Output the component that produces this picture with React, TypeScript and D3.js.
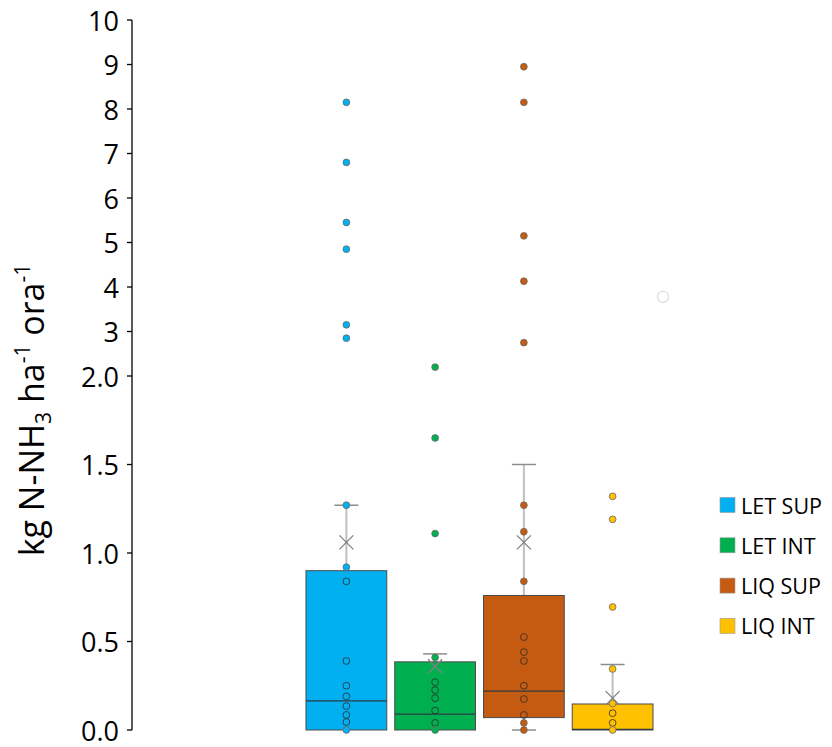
import React from "react";
import * as d3 from "d3";

// Treatment groups and their colours
const categories = ["LET SUP", "LET INT", "LIQ SUP", "LIQ INT"];
const colors = ["#00B0F0", "#00B050", "#C55A11", "#FFC000"];

// Box statistics per group (kg N-NH3 ha-1 ora-1)
const q1 = [0, 0, 0.07, 0];
const median = [0.165, 0.09, 0.22, 0.004];
const q3 = [0.9, 0.385, 0.76, 0.147];
const whiskerLow = [0, 0, 0, 0];
const whiskerHigh = [1.27, 0.43, 1.5, 0.37];
const mean = [1.06, 0.36, 1.06, 0.18];

// Individual observations per group
const letSup = [8.15, 6.8, 5.45, 4.85, 3.15, 2.85, 1.27, 0.92, 0.84, 0.39, 0.25, 0.19, 0.135, 0.085, 0.045, 0];
const letInt = [2.2, 1.65, 1.11, 0.41, 0.27, 0.225, 0.18, 0.11, 0.04, 0];
const liqSup = [8.95, 8.15, 5.15, 4.13, 2.75, 1.27, 1.12, 0.84, 0.525, 0.44, 0.39, 0.25, 0.175, 0.085, 0.04, 0];
const liqInt = [1.32, 1.19, 0.695, 0.345, 0.15, 0.095, 0.04, 0];
const points = [letSup, letInt, liqSup, liqInt];

// Stray empty marker to the right of the last group
const strayMarker = [3.78];

// Axis ticks: a linear 0–2 section, then a compressed 2–10 section
const lowTicks = [0, 0.5, 1, 1.5, 2];
const highTicks = [3, 4, 5, 6, 7, 8, 9, 10];

const W = 832;
const H = 747;
const FONT = "'Open Sans', 'Noto Sans', sans-serif";

export default function App() {
  const y = d3.scaleLinear().domain([0, 2, 10]).range([730, 376, 20]);
  const x = d3
    .scaleBand<string>()
    .domain(categories)
    .range([302, 657])
    .paddingInner(0.09)
    .paddingOuter(0.045);
  const bw = x.bandwidth();
  const axisX = 132;

  const ticks = [
    ...lowTicks.map((v) => ({ v, label: d3.format(".1f")(v) })),
    ...highTicks.map((v) => ({ v, label: String(v) })),
  ];

  return (
    <svg
      width={W}
      height={H}
      style={{ position: "absolute", left: 0, top: 0, background: "#fff" }}
      fontFamily={FONT}
    >
      {/* Y axis */}
      <line x1={axisX} x2={axisX} y1={y(10)} y2={y(0)} stroke="#000" strokeWidth={1.3} />
      {ticks.map((t) => (
        <g key={t.label}>
          <line x1={axisX - 5} x2={axisX} y1={y(t.v)} y2={y(t.v)} stroke="#000" strokeWidth={1.3} />
          <text
            x={axisX - 13}
            y={y(t.v)}
            textAnchor="end"
            dominantBaseline="central"
            fontSize={27}
            fill="#000"
          >
            {t.label}
          </text>
        </g>
      ))}

      {/* Y axis title */}
      <text
        transform={`translate(44, 410) rotate(-90)`}
        textAnchor="middle"
        fontSize={34}
        fill="#000"
      >
        <tspan>kg N-NH</tspan>
        <tspan fontSize={21} dy={7}>3</tspan>
        <tspan dy={-7}> ha</tspan>
        <tspan fontSize={21} dy={-14}>-1</tspan>
        <tspan dy={14}> ora</tspan>
        <tspan fontSize={21} dy={-14}>-1</tspan>
      </text>

      {/* Boxes */}
      {categories.map((c, i) => {
        const x0 = x(c)!;
        const cx = x0 + bw / 2;
        const capHalf = 12;
        const m = 7;
        return (
          <g key={c}>
            {/* whiskers */}
            <line x1={cx} x2={cx} y1={y(q3[i])} y2={y(whiskerHigh[i])} stroke="#BFBFBF" strokeWidth={2} />
            <line x1={cx} x2={cx} y1={y(q1[i])} y2={y(whiskerLow[i])} stroke="#BFBFBF" strokeWidth={2} />
            <line x1={cx - capHalf} x2={cx + capHalf} y1={y(whiskerHigh[i])} y2={y(whiskerHigh[i])} stroke="#8C8C8C" strokeWidth={1.5} />
            {whiskerLow[i] < q1[i] && (
              <line x1={cx - capHalf} x2={cx + capHalf} y1={y(whiskerLow[i])} y2={y(whiskerLow[i])} stroke="#8C8C8C" strokeWidth={1.5} />
            )}
            {/* box */}
            <rect
              x={x0}
              y={y(q3[i])}
              width={bw}
              height={y(q1[i]) - y(q3[i])}
              fill={colors[i]}
              stroke="#4a4a4a"
              strokeWidth={1}
            />
            <line x1={x0} x2={x0 + bw} y1={y(median[i])} y2={y(median[i])} stroke="#2e3b44" strokeWidth={1.2} />
            {/* mean marker */}
            <path
              d={`M${cx - m},${y(mean[i]) - m}L${cx + m},${y(mean[i]) + m}M${cx - m},${y(mean[i]) + m}L${cx + m},${y(mean[i]) - m}`}
              stroke="#808080"
              strokeWidth={1.3}
              fill="none"
            />
            {/* observations */}
            {points[i].map((v, k) => {
              const inside = v > q1[i] && v < q3[i];
              return (
                <circle
                  key={k}
                  cx={cx}
                  cy={y(v)}
                  r={3.4}
                  fill={inside ? "none" : colors[i]}
                  stroke={inside ? "#2b2b2b" : "#6b6b6b"}
                  strokeWidth={0.8}
                />
              );
            })}
          </g>
        );
      })}

      {/* stray empty marker */}
      {strayMarker.map((v, k) => (
        <circle
          key={k}
          cx={x.range()[1] + 6}
          cy={y(v)}
          r={5.5}
          fill="none"
          stroke="#dddddd"
          strokeWidth={1.3}
        />
      ))}

      {/* Legend */}
      {categories.map((c, i) => {
        const cy = 505 + i * 40.3;
        return (
          <g key={c}>
            <rect x={720} y={cy - 7.5} width={15} height={15} fill={colors[i]} stroke="#9a9a9a" strokeWidth={0.6} />
            <text x={741} y={cy} dominantBaseline="central" fontSize={21.5} fill="#000">
              {c}
            </text>
          </g>
        );
      })}
    </svg>
  );
}
